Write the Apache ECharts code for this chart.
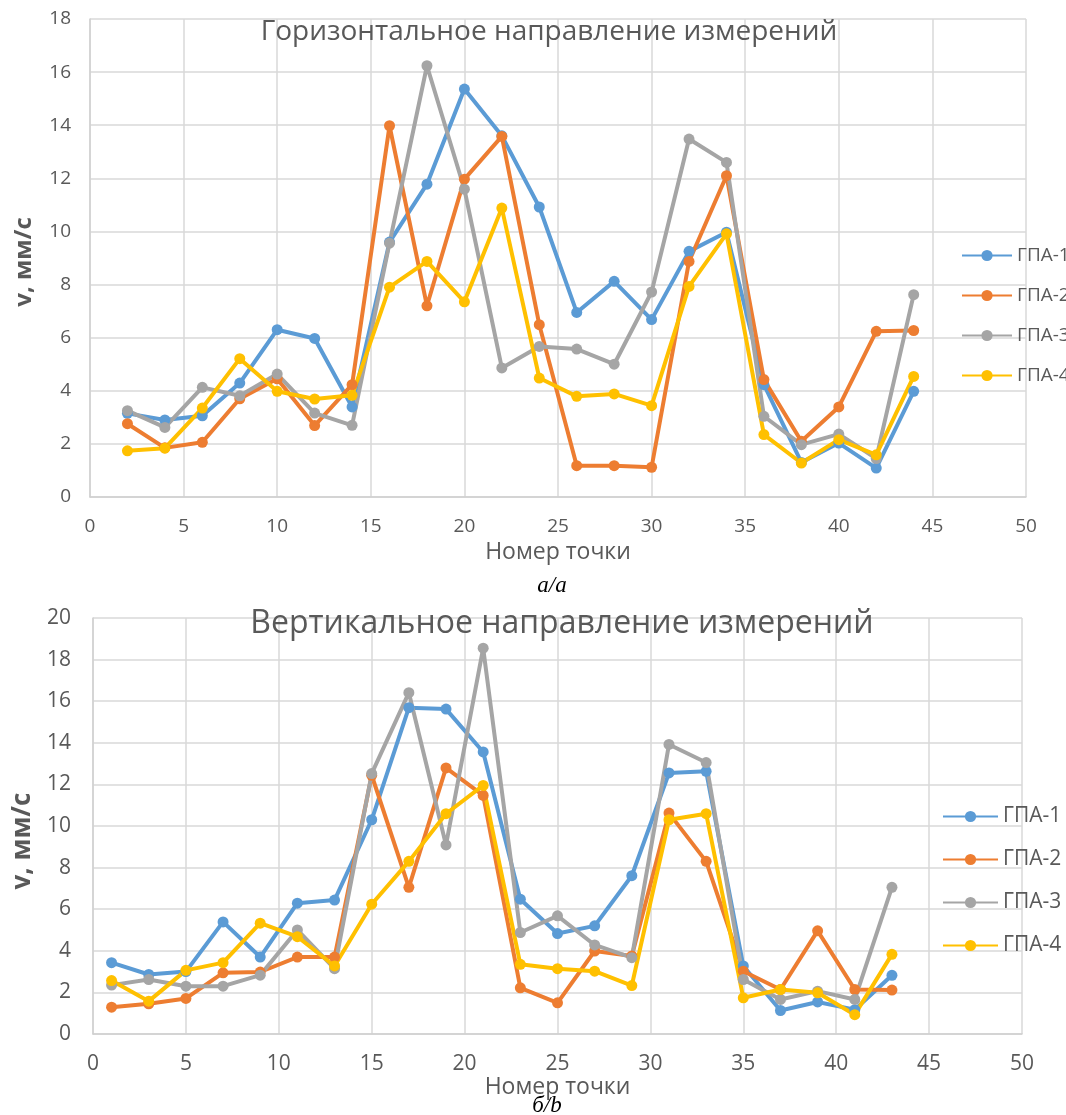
<!DOCTYPE html>
<html><head><meta charset="utf-8">
<script src="https://cdn.jsdelivr.net/npm/echarts@6/dist/echarts.min.js"></script>
<style>html,body{margin:0;padding:0;background:#fff}#c{width:1066px;height:1115px}</style>
</head><body><div id="c"></div>
<script>
const seriesNames = ['ГПА-1','ГПА-2','ГПА-3','ГПА-4'];
const colors = ['#5B9BD5','#ED7D31','#A5A5A5','#FFC000'];

// Top chart: horizontal direction (points 2,4,...,44)
const xTop = [2,4,6,8,10,12,14,16,18,20,22,24,26,28,30,32,34,36,38,40,42,44];
const h1 = [3.15,2.9,3.06,4.29,6.3,5.97,3.39,9.6,11.78,15.36,13.6,10.92,6.95,8.12,6.68,9.25,9.97,4.23,1.3,2.03,1.09,3.98];
const h2 = [2.76,1.85,2.06,3.7,4.45,2.69,4.23,13.98,7.2,11.97,13.58,6.49,1.18,1.18,1.12,8.87,12.1,4.42,2.1,3.39,6.24,6.27];
const h3 = [3.25,2.62,4.13,3.81,4.63,3.16,2.7,9.56,16.24,11.59,4.86,5.67,5.57,5.0,7.72,13.48,12.6,3.04,1.97,2.37,1.45,7.62];
const h4 = [1.74,1.84,3.35,5.21,3.98,3.69,3.83,7.9,8.87,7.35,10.88,4.48,3.79,3.88,3.44,7.93,9.91,2.35,1.28,2.16,1.59,4.54];

// Bottom chart: vertical direction (points 1,3,...,43)
const xBot = [1,3,5,7,9,11,13,15,17,19,21,23,25,27,29,31,33,35,37,39,41,43];
const v1 = [3.43,2.86,3.0,5.39,3.7,6.29,6.44,10.3,15.69,15.62,13.56,6.48,4.83,5.2,7.61,12.55,12.63,3.27,1.13,1.54,1.17,2.82];
const v2 = [1.29,1.45,1.71,2.94,2.98,3.7,3.7,12.44,7.05,12.79,11.47,2.22,1.5,3.99,3.75,10.62,8.3,3.02,2.14,4.96,2.14,2.11];
const v3 = [2.35,2.62,2.3,2.3,2.83,5.0,3.14,12.52,16.41,9.09,18.55,4.88,5.68,4.28,3.67,13.92,13.05,2.62,1.66,2.06,1.66,7.05];
const v4 = [2.57,1.58,3.06,3.43,5.33,4.68,3.27,6.24,8.3,10.59,11.95,3.35,3.14,3.02,2.33,10.3,10.59,1.74,2.14,1.98,0.93,3.83];

const titleTop = 'Горизонтальное направление измерений';
const titleBot = 'Вертикальное направление измерений';
const captionTop = 'а/a';
const captionBot = 'б/b';
const xName = 'Номер точки';
const yName = 'v, мм/с';

const FONT = 'Open Sans';
const txt = '#595959';

function pairs(xs, ys){ return xs.map((x,i)=>[x, ys[i]]); }

function mkSeries(xs, list, idx){
  return list.map((ys,i)=>({
    name: seriesNames[i], type:'line', xAxisIndex: idx, yAxisIndex: idx,
    data: pairs(xs, ys), symbol:'circle', symbolSize: 11,
    lineStyle:{width:4, color: colors[i]}, itemStyle:{color: colors[i]},
    emphasis:{disabled:true}, animation:false
  }));
}

function mkX(idx, fs, nameFs, nameGap){
  return {
    type:'value', gridIndex: idx, min:0, max:50, interval:5,
    name: xName, nameLocation:'middle', nameGap: nameGap,
    nameTextStyle:{color:txt, fontFamily:FONT, fontSize:nameFs},
    axisLine:{show:true, lineStyle:{color:'#d0d0d0', width:1.5}},
    axisTick:{show:false},
    axisLabel:{color:txt, fontFamily:FONT, fontSize:fs, margin:20},
    splitLine:{show:true, lineStyle:{color:'#d9d9d9', width:1.5}}
  };
}
function mkY(idx, max, fs, nameFs, nameGap, margin, pad){
  return {
    type:'value', gridIndex: idx, min:0, max:max, interval:2,
    name: yName, nameLocation:'middle', nameGap: nameGap, nameRotate:90,
    nameTextStyle:{color:txt, fontFamily:FONT, fontSize:nameFs, fontWeight:'bold', padding:[0,pad,0,0]},
    axisLine:{show:true, lineStyle:{color:'#d0d0d0', width:1.5}},
    axisTick:{show:false},
    axisLabel:{color:txt, fontFamily:FONT, fontSize:fs, margin:margin},
    splitLine:{show:true, lineStyle:{color:'#d9d9d9', width:1.5}}
  };
}

const chart = echarts.init(document.getElementById('c'), null, {renderer:'canvas'});
chart.setOption({
  backgroundColor:'#fff',
  animation:false,
  title:[
    {text:titleTop, left:544, top:13, textAlign:'center', textStyle:{color:txt, fontFamily:FONT, fontSize:28, fontWeight:'normal'}},
    {text:titleBot, left:557, top:603, textAlign:'center', textStyle:{color:txt, fontFamily:FONT, fontSize:32, fontWeight:'normal'}},
    {text:captionTop, left:547, top:569, textAlign:'center', textStyle:{color:'#000', fontFamily:'Liberation Serif', fontSize:23, fontStyle:'italic', fontWeight:'normal'}},
    {text:captionBot, left:542, top:1089, textAlign:'center', textStyle:{color:'#000', fontFamily:'Liberation Serif', fontSize:23, fontStyle:'italic', fontWeight:'normal'}}
  ],
  legend:[
    {data:seriesNames, orient:'vertical', left:956, top:241, itemGap:21, itemWidth:50, itemHeight:14,
     textStyle:{color:txt, fontFamily:FONT, fontSize:19}},
    {data:seriesNames, orient:'vertical', left:937, top:801, itemGap:22, itemWidth:55, itemHeight:14,
     textStyle:{color:txt, fontFamily:FONT, fontSize:21}}
  ],
  grid:[
    {left:90, right:40, top:19, bottom:618, containLabel:false},
    {left:93, right:44, top:618, bottom:81, containLabel:false}
  ],
  xAxis:[mkX(0,19,23,44), mkX(1,21,23,33)],
  yAxis:[mkY(0,18,19,24,54,19,8), mkY(1,20,21,26,55,22,30)],
  series:[...mkSeries(xTop,[h1,h2,h3,h4],0), ...mkSeries(xBot,[v1,v2,v3,v4],1)]
});
</script></body></html>
